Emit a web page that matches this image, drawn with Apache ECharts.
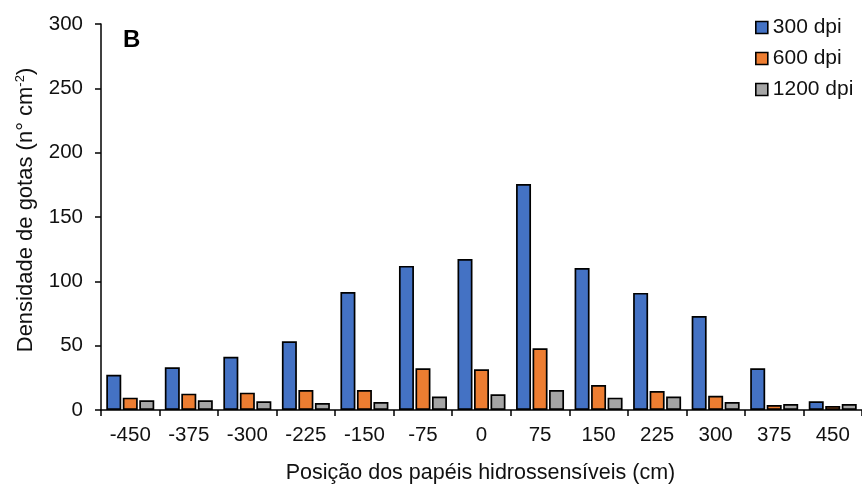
<!DOCTYPE html>
<html><head><meta charset="utf-8">
<script src="https://cdn.jsdelivr.net/npm/echarts@6/dist/echarts.min.js"></script>
<style>html,body{margin:0;padding:0;background:#fff}#c{width:862px;height:489px}</style>
</head><body><div id="c"></div>
<script>
const categories = ['-450','-375','-300','-225','-150','-75','0','75','150','225','300','375','450'];
const dpi300 = [27.4, 33.2, 41.4, 53.4, 91.7, 112, 117.4, 175.6, 110.4, 91, 73, 32.4, 6.8];
const dpi600 = [9.6, 12.7, 13.5, 15.5, 15.5, 32.4, 31.6, 48, 19.4, 14.8, 11.1, 3.9, 3.1];
const dpi1200 = [7.5, 7.5, 6.8, 5.4, 6.2, 10.4, 12.2, 15.5, 9.6, 10.4, 6.2, 4.7, 4.7];
const seriesNames = ['300 dpi', '600 dpi', '1200 dpi'];
const yTicks = {min: 0, max: 300, interval: 50};

const font = 'Liberation Sans, Arial, sans-serif';
const colors = ['#4472C4', '#ED7D31', '#A5A5A5'];
const chart = echarts.init(document.getElementById('c'));
const mk = (name, data, color) => ({
  name, type: 'bar', data, barWidth: 15, barGap: '10%',
  itemStyle: {color, borderColor: '#000', borderWidth: 1.7}
});
chart.setOption({
  animation: false,
  textStyle: {fontFamily: font},
  grid: {left: 101, top: 24, bottom: 79, right: -3, containLabel: false},
  legend: {
    orient: 'vertical', left: 750, top: 12, itemWidth: 12, itemHeight: 12, itemGap: 10,
    icon: 'rect',
    textStyle: {fontSize: 21, color: '#111', fontFamily: font},
    itemStyle: {borderColor: '#000', borderWidth: 1.6},
    data: seriesNames
  },
  graphic: [{type: 'text', left: 123, top: 28, style: {text: 'B', font: 'bold 24px ' + font, fill: '#000'}}],
  xAxis: {
    type: 'category', data: categories,
    name: 'Posição dos papéis hidrossensíveis (cm)', nameLocation: 'middle', nameGap: 52,
    nameTextStyle: {fontSize: 21.5, color: '#111', fontFamily: font, padding: [0,0,0,-2]},
    axisLine: {lineStyle: {color: '#000', width: 1.5}},
    axisTick: {show: true, length: 6, lineStyle: {color: '#000', width: 1.5}},
    axisLabel: {fontSize: 20.5, color: '#111', margin: 15, fontFamily: font},
    splitLine: {show: false}
  },
  yAxis: {
    type: 'value', min: yTicks.min, max: yTicks.max, interval: yTicks.interval,
    name: '{a|Densidade de gotas (n° cm}{s|-2}{a|)}', nameLocation: 'middle', nameGap: 64, nameRotate: 90,
    nameTextStyle: {
      color: '#111', fontFamily: font, padding: [0,0,0,14],
      rich: {a: {fontSize: 22, color: '#111', fontFamily: font}, s: {fontSize: 13, color: '#111', fontFamily: font, verticalAlign: 'top', padding: [0,0,10,0]}}
    },
    axisLine: {show: true, lineStyle: {color: '#000', width: 1.5}},
    axisTick: {show: true, length: 6, lineStyle: {color: '#000', width: 1.5}},
    axisLabel: {fontSize: 20.5, color: '#111', margin: 18, fontFamily: font},
    splitLine: {show: false}
  },
  series: [mk(seriesNames[0], dpi300, colors[0]), mk(seriesNames[1], dpi600, colors[1]), mk(seriesNames[2], dpi1200, colors[2])]
});
</script></body></html>
